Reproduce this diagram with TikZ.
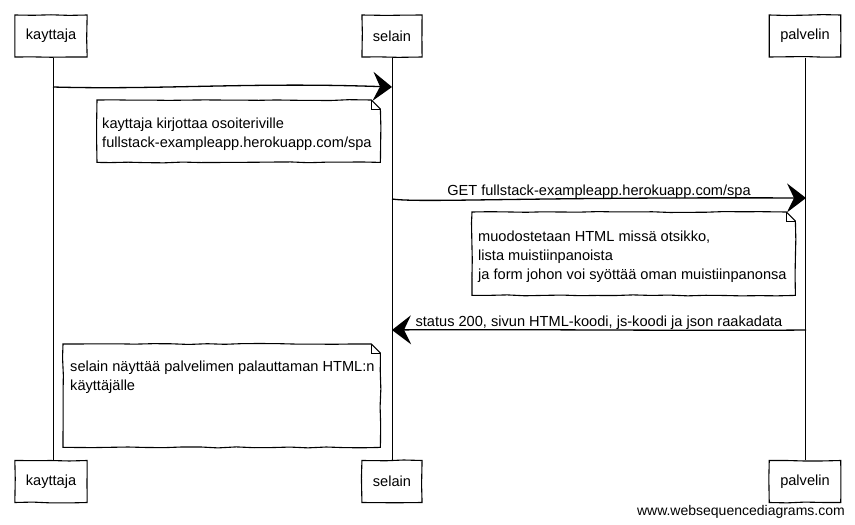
\documentclass[tikz,border=0pt]{standalone}
\usepackage{fontspec}
\setmainfont{Liberation Sans}
\usetikzlibrary{arrows.meta,decorations.pathmorphing}
\begin{document}
\pgfmathsetseed{7}
\begin{tikzpicture}[x=1pt,y=-1pt,
  every node/.style={font=\fontsize{14.6}{19.5}\selectfont},
  sketch/.style={decorate,decoration={random steps,segment length=18pt,amplitude=0.5pt}},
  actor/.style={draw,line width=1.1pt,sketch,minimum height=42pt,inner xsep=11pt,inner ysep=0pt},
  life/.style={line width=0.9pt},
  notebox/.style={draw=none,inner sep=0pt,anchor=north west},
  noteline/.style={line width=1.1pt,sketch},
  foldline/.style={line width=0.7pt},
  notetext/.style={inner sep=0pt,align=left,anchor=north west},
  msg/.style={line width=1.3pt,-{Stealth[length=19pt,width=29pt,inset=7pt]}},
  msglabel/.style={inner sep=0pt,anchor=base}
]
\useasboundingbox (0,0) rectangle (855,525);

% participants, top and bottom
\node[actor] (kt) at (51,36) {kayttaja};
\node[actor] (st) at (392,36) {selain};
\node[actor] (pt) at (805,36) {palvelin};
\node[actor] (kb) at (51,481.5) {kayttaja};
\node[actor] (sb) at (392,481.5) {selain};
\node[actor] (pb) at (805,481.5) {palvelin};

% lifelines
\draw[life] (kt.south) ++(2pt,0) coordinate (ktl) -- (kb.north -| ktl);
\draw[life] (st.south) -- (sb.north);
\draw[life] (pt.south) -- (pb.north);

% message end points on the lifelines
\coordinate (k1) at (53,87);
\coordinate (s1) at (392,87);
\coordinate (s2) at (392,199);
\coordinate (p2) at (806,198);
\coordinate (p3) at (806,330);
\coordinate (s3) at (392,330);

% messages
\draw[msg] (k1) .. controls (160,90) and (250,82) .. (s1);
\draw[msg] (s2) .. controls (420,203) and (520,197) .. (p2);
\node[msglabel] (l2) at (599,195) {GET fullstack-exampleapp.herokuapp.com/spa};
\draw[msg] (p3) .. controls (700,331) and (500,329) .. (s3);
\node[msglabel] (l3) at (599,326) {status 200, sivun HTML-koodi, js-koodi ja json raakadata};

% note outline with a folded top right corner
\newcommand{\dognote}[1]{%
  \draw[noteline] (#1.north west) -- ([xshift=-9pt]#1.north east)
    -- ([yshift=-9pt]#1.north east) -- (#1.south east) -- (#1.south west) -- cycle;
  \draw[foldline] ([xshift=-9pt]#1.north east) |- ([yshift=-9pt]#1.north east);}

\node[notebox,minimum width=283pt,minimum height=62pt] (n1) at (97,100) {};
\dognote{n1}
\node[notetext] (t1) at (102,117.5) {kayttaja kirjottaa osoiteriville\\fullstack-exampleapp.herokuapp.com/spa};

\node[notebox,minimum width=323pt,minimum height=83pt] (n2) at (472,212) {};
\dognote{n2}
\node[notetext,font=\fontsize{14.6}{18.8}\selectfont] (t2) at (478,231) {muodostetaan HTML missä otsikko,\\lista muistiinpanoista\\ja form johon voi syöttää oman muistiinpanonsa};

\node[notebox,minimum width=317pt,minimum height=103pt] (n3) at (63,344) {};
\dognote{n3}
\node[notetext,font=\fontsize{14.6}{18.8}\selectfont] (t3) at (70,361) {selain näyttää palvelimen palauttaman HTML:n\\käyttäjälle};

% footer
\node[inner sep=0pt,anchor=base east,font=\fontsize{14}{16}\selectfont] (web) at (845,515) {www.websequencediagrams.com};
\end{tikzpicture}
\end{document}
